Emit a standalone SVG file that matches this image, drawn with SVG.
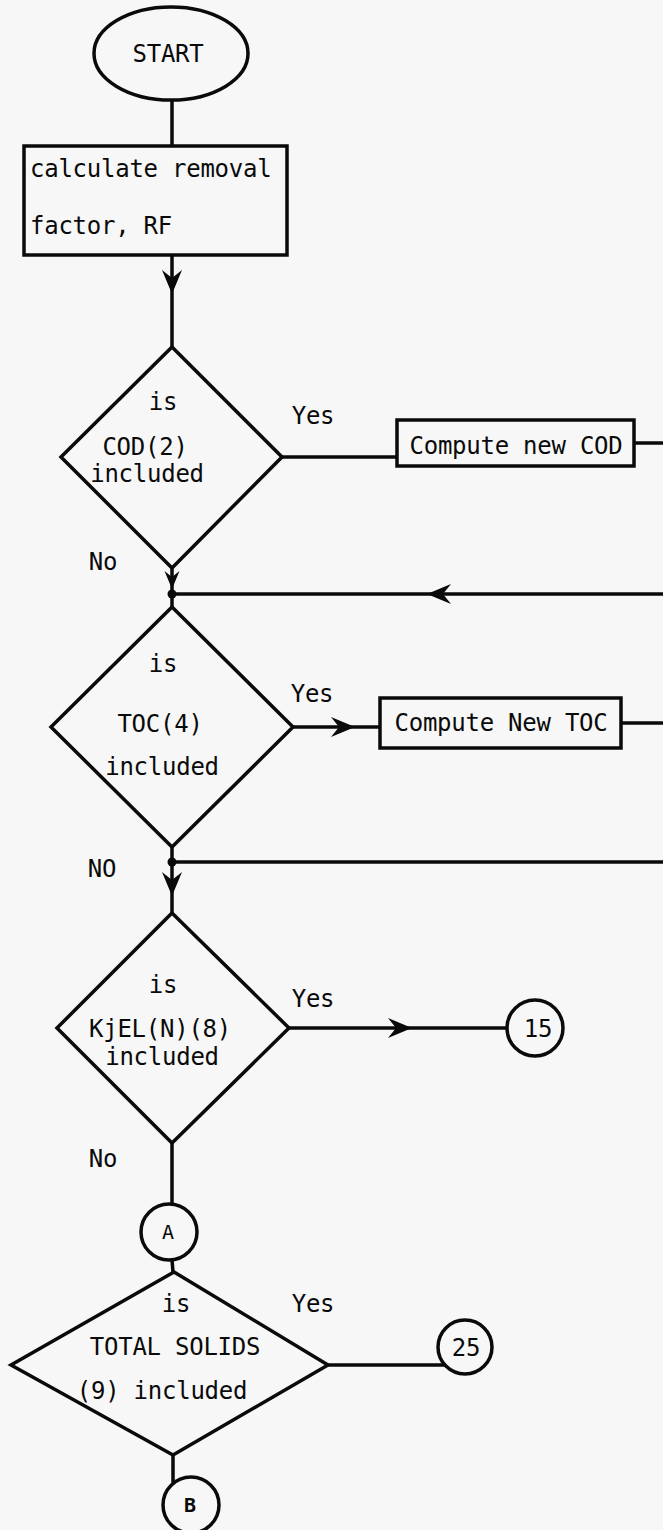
<svg xmlns="http://www.w3.org/2000/svg" xmlns:xlink="http://www.w3.org/1999/xlink" width="663" height="1530" viewBox="0 0 663 1530">
<style>
.s{fill:none;stroke:#0a0a0a;stroke-width:3.5;stroke-linejoin:miter}
.t{font-family:"DejaVu Sans Mono","Liberation Mono",monospace;font-size:24px;letter-spacing:-0.25px;fill:#0a0a0a}
.m{text-anchor:middle}
.c{font-family:"DejaVu Sans Mono","Liberation Mono",monospace;font-size:20px;fill:#0a0a0a;text-anchor:middle}
</style>
<defs>
<path id="ah" d="M0,0 L-24,-10 L-16,0 L-24,10 Z" fill="#0a0a0a"/>
</defs>
<rect width="663" height="1530" fill="#f7f7f7"/>
<g id="connectors">
<line class="s" x1="172" y1="100" x2="172" y2="146"/>
<line class="s" x1="172" y1="255" x2="172" y2="347"/>
<use xlink:href="#ah" transform="translate(172,294) rotate(90)"/>
<line class="s" x1="282" y1="457" x2="397" y2="457"/>
<line class="s" x1="634" y1="443" x2="663" y2="443"/>
<line class="s" x1="663" y1="594" x2="172" y2="594"/>
<use xlink:href="#ah" transform="translate(427,594) rotate(180)"/>
<line class="s" x1="172" y1="568" x2="172" y2="607"/>
<use xlink:href="#ah" transform="translate(172,589) rotate(90) scale(0.75)"/>
<circle cx="172" cy="594" r="4.5" fill="#0a0a0a"/>
<line class="s" x1="293" y1="727" x2="380" y2="727"/>
<use xlink:href="#ah" transform="translate(355,727)"/>
<line class="s" x1="621" y1="723" x2="663" y2="723"/>
<line class="s" x1="663" y1="862" x2="172" y2="862"/>
<circle cx="172" cy="862" r="4.5" fill="#0a0a0a"/>
<line class="s" x1="172" y1="847" x2="172" y2="913"/>
<use xlink:href="#ah" transform="translate(172,896) rotate(90)"/>
<line class="s" x1="289" y1="1028" x2="507" y2="1028"/>
<use xlink:href="#ah" transform="translate(412,1028)"/>
<line class="s" x1="172" y1="1143" x2="172" y2="1204"/>
<line class="s" x1="172" y1="1260" x2="173" y2="1272"/>
<line class="s" x1="328" y1="1365" x2="445" y2="1365"/>
<line class="s" x1="173" y1="1455" x2="173" y2="1484"/>
</g>
<g id="start">
<ellipse class="s" cx="171" cy="53.5" rx="77" ry="46.5"/>
<text class="t m" x="168" y="62">START</text>
</g>
<g id="calc">
<rect class="s" x="24" y="146" width="263" height="109"/>
<text class="t" x="30" y="177">calculate removal</text>
<text class="t" x="30" y="234">factor, RF</text>
</g>
<g id="cod">
<polygon class="s" points="172,347 282,457 172,568 61,457"/>
<text class="t m" x="163" y="410">is</text>
<text class="t m" x="145" y="455">COD(2)</text>
<text class="t m" x="147" y="482">included</text>
<text class="t m" x="313" y="424">Yes</text>
<text class="t m" x="103" y="570">No</text>
</g>
<g id="codbox">
<rect class="s" x="397" y="420" width="237" height="46"/>
<text class="t m" x="516" y="454">Compute new COD</text>
</g>
<g id="toc">
<polygon class="s" points="172,607 293,727 172,847 51,727"/>
<text class="t m" x="163" y="672">is</text>
<text class="t m" x="160" y="732">TOC(4)</text>
<text class="t m" x="162" y="775">included</text>
<text class="t m" x="312" y="702">Yes</text>
<text class="t m" x="102" y="877">NO</text>
</g>
<g id="tocbox">
<rect class="s" x="380" y="698" width="241" height="50"/>
<text class="t m" x="501" y="731">Compute New TOC</text>
</g>
<g id="kjel">
<polygon class="s" points="172,913 289,1028 172,1143 57,1028"/>
<text class="t m" x="163" y="993">is</text>
<text class="t m" x="160" y="1037">KjEL(N)(8)</text>
<text class="t m" x="162" y="1065">included</text>
<text class="t m" x="313" y="1007">Yes</text>
<text class="t m" x="103" y="1167">No</text>
</g>
<g id="c15">
<circle class="s" cx="535" cy="1028" r="28"/>
<text class="t m" x="538" y="1037">15</text>
</g>
<g id="cA">
<circle class="s" cx="169" cy="1232" r="28"/>
<text class="c" x="168" y="1239">A</text>
</g>
<g id="solids">
<polygon class="s" points="174,1272 328,1365 173,1455 11,1365"/>
<text class="t m" x="176" y="1312">is</text>
<text class="t m" x="175" y="1355">TOTAL SOLIDS</text>
<text class="t m" x="162" y="1399">(9) included</text>
<text class="t m" x="313" y="1312">Yes</text>
</g>
<g id="c25">
<circle class="s" cx="465" cy="1347" r="27"/>
<text class="t m" x="466" y="1356">25</text>
</g>
<g id="cB">
<circle class="s" cx="191" cy="1505" r="28"/>
<text class="c" x="190" y="1512" font-weight="bold">B</text>
</g>
</svg>
